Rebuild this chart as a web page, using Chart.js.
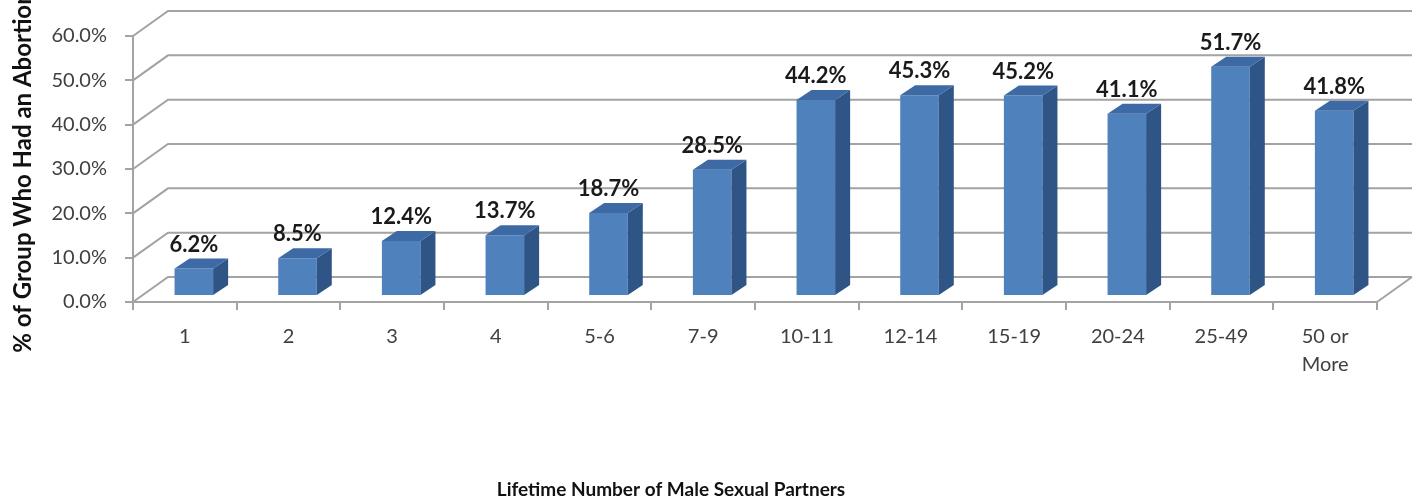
<!DOCTYPE html>
<html>
<head>
<meta charset="utf-8">
<script src="https://cdn.jsdelivr.net/npm/chart.js@4/dist/chart.umd.min.js"></script>
<style>
  html, body { margin: 0; padding: 0; background: #fff; }
  #wrap { width: 1421px; height: 502px; }
</style>
</head>
<body>
<div id="wrap"><canvas id="grafico" width="1421" height="502"></canvas></div>
<script>
const categorias = ['1', '2', '3', '4', '5-6', '7-9', '10-11', '12-14', '15-19', '20-24', '25-49', ['50 or', 'More']];
const valores = [6.2, 8.5, 12.4, 13.7, 18.7, 28.5, 44.2, 45.3, 45.2, 41.1, 51.7, 41.8];
const ticksY = [0, 10, 20, 30, 40, 50, 60];
const tituloY = '% of Group Who Had an Abortion';
const tituloX = 'Lifetime Number of Male Sexual Partners';

const FONTE = 'Lato, "Open Sans", sans-serif';
const GRADE = '#a3a3a3';
// profundidade da parede (3D) e da barra
const PX = 35, PY = -25;
const BX = 9, BY = -6;
const DX = 15, DY = -10;

const efeito3d = {
    id: 'efeito3d',
    beforeDatasetsDraw(chart) {
        const { ctx, chartArea: a, scales: { y } } = chart;
        ctx.save();
        ctx.strokeStyle = GRADE;
        ctx.lineWidth = 2;
        ticksY.forEach(t => {
            const py = y.getPixelForValue(t);
            ctx.beginPath();
            ctx.moveTo(a.left, py);
            ctx.lineTo(a.left + PX, py + PY);
            ctx.lineTo(a.right + PX, py + PY);
            ctx.stroke();
        });
        ctx.beginPath();
        ctx.moveTo(a.right, a.bottom);
        ctx.lineTo(a.right + PX, a.bottom + PY);
        ctx.stroke();
        ctx.restore();
        // faces frontais desenhadas pelo Chart.js, deslocadas para dentro do piso
        ctx.save();
        ctx.translate(BX, BY);
    },
    afterDatasetsDraw(chart) {
        const { ctx } = chart;
        chart.getDatasetMeta(0).data.forEach(bar => {
            const { x, y, base, width } = bar.getProps(['x', 'y', 'base', 'width'], true);
            const l = x - width / 2, r = x + width / 2;
            // lateral
            ctx.fillStyle = '#2f5587';
            ctx.beginPath();
            ctx.moveTo(r, y);
            ctx.lineTo(r + DX, y + DY);
            ctx.lineTo(r + DX, base + DY);
            ctx.lineTo(r, base);
            ctx.closePath();
            ctx.fill();
            // topo
            ctx.fillStyle = '#3d69a4';
            ctx.beginPath();
            ctx.moveTo(l, y);
            ctx.lineTo(l + DX, y + DY);
            ctx.lineTo(r + DX, y + DY);
            ctx.lineTo(r, y);
            ctx.closePath();
            ctx.fill();
        });
        ctx.restore();
    },
    afterDraw(chart) {
        const { ctx } = chart;
        ctx.save();
        // rótulos de valor
        ctx.fillStyle = '#1a1a1a';
        ctx.font = 'bold 22px ' + FONTE;
        ctx.textAlign = 'center';
        ctx.textBaseline = 'middle';
        chart.getDatasetMeta(0).data.forEach((bar, i) => {
            ctx.fillText(valores[i].toFixed(1) + '%', bar.x + BX, bar.y + BY - 24);
        });
        // título do eixo X
        ctx.font = 'bold 19px ' + FONTE;
        ctx.fillStyle = '#111';
        ctx.fillText(tituloX, 671, 490);
        // título do eixo Y (cortado no topo, como no original)
        ctx.translate(23, 172);
        ctx.rotate(-Math.PI / 2);
        ctx.font = 'bold 24px ' + FONTE;
        ctx.fillText(tituloY, 0, 0);
        ctx.restore();
    }
};

new Chart(document.getElementById('grafico').getContext('2d'), {
    type: 'bar',
    data: {
        labels: categorias,
        datasets: [{
            data: valores,
            backgroundColor: '#4f81bd',
            borderWidth: 0,
            categoryPercentage: 1,
            barPercentage: 0.372
        }]
    },
    options: {
        responsive: false,
        animation: false,
        layout: { padding: { top: 36, right: 44, left: 0, bottom: 0 } },
        plugins: { legend: { display: false }, tooltip: { enabled: false } },
        scales: {
            x: {
                grid: { drawOnChartArea: false, tickLength: 8, color: GRADE, lineWidth: 2 },
                border: { color: GRADE, width: 2 },
                ticks: { color: '#404040', font: { family: FONTE, size: 20, lineHeight: 1.4 }, padding: 13, maxRotation: 0, autoSkip: false },
                afterFit: s => { s.height = 200; }
            },
            y: {
                min: 0, max: 60,
                afterBuildTicks: s => { s.ticks = ticksY.map(v => ({ value: v })); },
                grid: { drawOnChartArea: false, tickLength: 8, color: GRADE, lineWidth: 2 },
                border: { color: GRADE, width: 2 },
                ticks: { color: '#404040', font: { family: FONTE, size: 20 }, padding: 18, callback: v => v.toFixed(1) + '%' },
                afterFit: s => { s.width = 133; }
            }
        }
    },
    plugins: [efeito3d]
});
</script>
</body>
</html>
